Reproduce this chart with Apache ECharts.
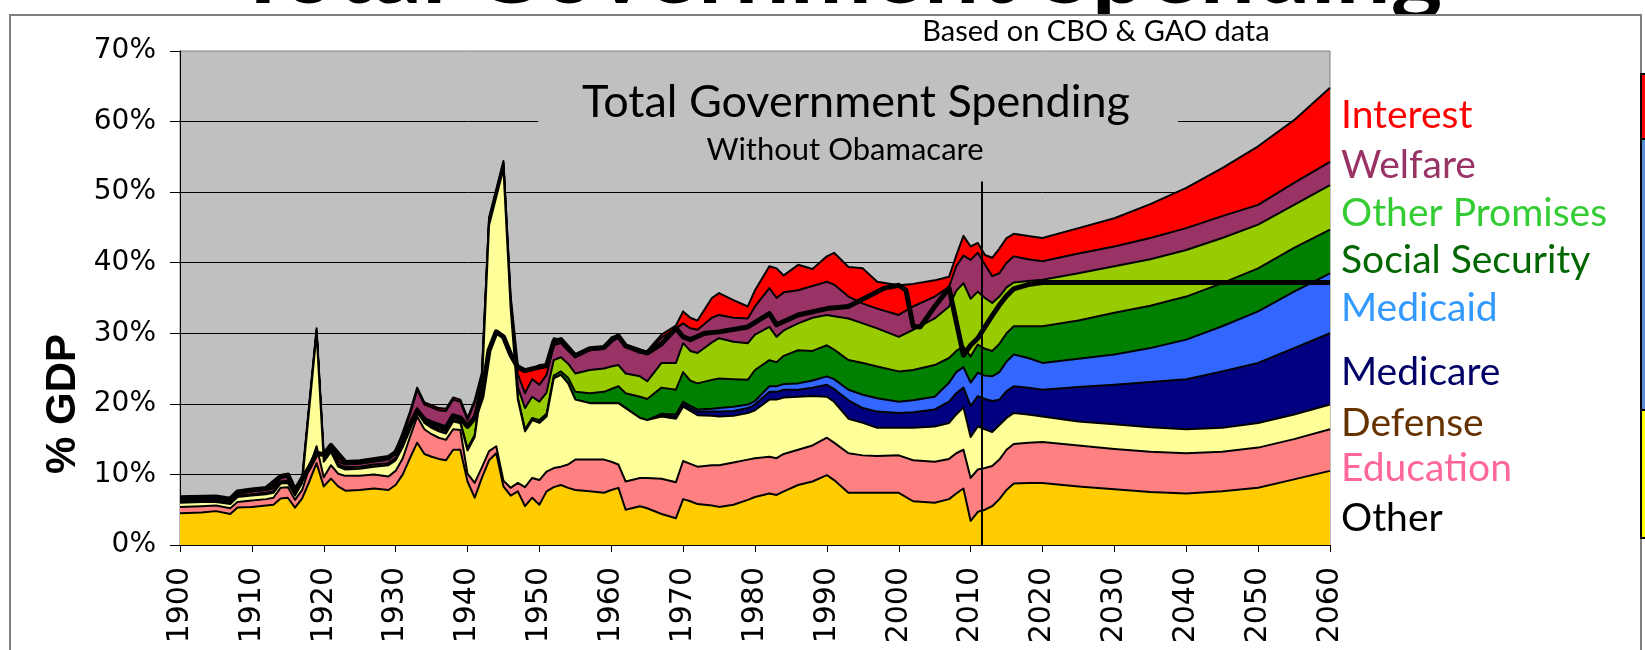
<!DOCTYPE html>
<html>
<head>
<meta charset="utf-8">
<title>Total Government Spending</title>
<script src="https://cdn.jsdelivr.net/npm/echarts@6/dist/echarts.min.js"></script>
<style>
  html, body { margin: 0; padding: 0; background: #ffffff; }
  #chart { width: 1645px; height: 650px; }
</style>
</head>
<body>
<div id="chart"></div>
<script>
// Spending by function, % of GDP (stacked bottom to top).
const years = [
  1900,1903,1905,1907,1908,1910,1912,1913,1914,1915,
  1916,1917,1918,1919,1920,1921,1922,1923,1925,1927,
  1929,1930,1931,1932,1933,1934,1935,1936,1937,1938,
  1939,1940,1941,1942,1943,1944,1945,1946,1947,1948,
  1949,1950,1951,1952,1953,1954,1955,1957,1959,1960,
  1961,1962,1964,1965,1967,1969,1970,1971,1972,1974,
  1975,1977,1979,1980,1982,1983,1984,1986,1988,1990,
  1991,1993,1995,1997,2000,2002,2005,2007,2008,2009,
  2010,2011,2012,2013,2014,2015,2016,2018,2020,2025,
  2030,2035,2040,2045,2050,2055,2060
];

const otherSpending = [
  4.5,4.6,4.8,4.4,5.3,5.4,5.6,5.7,6.6,6.7,
  5.3,6.6,9.0,11.6,8.3,9.4,8.3,7.7,7.8,8.0,
  7.8,8.5,10.0,12.3,14.5,12.9,12.5,12.2,12.0,13.5,
  13.5,9.0,6.7,9.5,12.0,13.0,8.3,7.0,7.6,5.5,
  6.7,5.7,7.6,8.2,8.5,8.1,7.8,7.6,7.4,7.8,
  8.1,5.0,5.5,5.2,4.4,3.8,6.5,6.2,5.8,5.6,
  5.4,5.7,6.4,6.8,7.3,7.1,7.6,8.5,9.0,9.9,
  9.2,7.4,7.4,7.4,7.4,6.2,6.0,6.5,7.3,8.0,
  3.4,4.7,5.0,5.5,6.5,7.8,8.7,8.8,8.8,8.3,
  7.9,7.5,7.3,7.6,8.1,9.3,10.5
];

const education = [
  0.9,0.9,0.8,0.8,0.8,0.9,0.9,1.0,1.5,1.5,
  1.1,1.2,2.0,2.4,1.3,1.9,1.8,2.1,2.0,2.0,
  1.9,2.0,2.3,3.0,3.7,3.5,3.2,3.0,2.9,2.9,
  2.8,1.1,2.1,1.5,1.3,1.0,0.8,1.1,1.2,2.7,
  2.8,3.5,2.8,2.7,2.6,3.3,4.3,4.5,4.7,4.0,
  3.3,4.0,4.0,4.3,5.0,5.1,5.4,5.3,5.3,5.7,
  5.9,6.0,5.7,5.5,5.2,5.2,5.3,5.0,5.1,5.3,
  5.3,5.6,5.3,5.2,5.3,5.8,5.8,5.7,5.7,5.5,
  6.1,6.0,5.9,5.7,5.6,5.7,5.6,5.7,5.8,5.8,
  5.7,5.7,5.7,5.6,5.7,5.7,5.9
];

const defense = [
  0.6,0.6,0.5,0.6,0.7,0.7,0.7,0.7,0.6,0.6,
  0.6,1.0,8.5,16.0,2.2,1.9,1.0,0.9,1.0,1.1,
  1.6,1.5,1.6,1.0,0.9,0.9,0.9,0.9,0.9,1.1,
  1.0,3.3,6.5,11.5,32.0,35.3,44.2,25.5,11.8,7.9,
  8.2,8.1,7.8,12.7,13.0,11.5,8.5,8.0,8.0,8.3,
  8.7,10.4,8.5,8.2,8.8,9.0,7.7,7.5,7.3,7.0,
  6.9,6.6,6.6,6.8,8.1,8.3,8.0,7.5,7.0,5.8,
  5.8,4.9,4.6,4.0,3.9,4.6,5.0,5.1,5.5,6.0,
  5.8,6.1,5.5,4.8,4.9,4.5,4.4,4.0,3.6,3.4,
  3.5,3.5,3.4,3.4,3.5,3.5,3.5
];

const medicare = [
  0,0,0,0,0,0,0,0,0,0,
  0,0,0,0,0,0,0,0,0,0,
  0,0,0,0,0,0,0,0,0,0,
  0,0,0,0,0,0,0,0,0,0,
  0,0,0,0,0,0,0,0,0,0,
  0,0,0,0,0.2,0.3,0.4,0.4,0.5,0.6,
  0.7,0.7,0.7,0.8,1.1,1.1,1.1,1.0,1.2,1.7,
  1.8,2.6,2.1,2.3,2.1,2.2,2.4,3.0,3.0,2.8,
  4.4,4.3,4.3,4.4,3.6,3.8,3.8,3.8,3.8,4.9,
  5.6,6.4,7.1,8.0,8.5,9.4,10.1
];

const medicaid = [
  0,0,0,0,0,0,0,0,0,0,
  0,0,0,0,0,0,0,0,0,0,
  0,0,0,0,0,0,0,0,0,0,
  0,0,0,0,0,0,0,0,0,0,
  0,0,0,0,0,0,0,0,0,0,
  0,0,0,0,0.2,0.3,0.3,0.3,0.3,0.4,
  0.5,0.6,0.5,0.5,0.8,0.8,0.8,0.9,1.0,1.2,
  1.4,1.5,1.9,1.9,1.6,1.7,1.8,2.7,3.0,2.9,
  3.3,3.3,3.3,3.5,3.9,4.2,4.5,4.2,3.8,4.0,
  4.3,4.8,5.6,6.4,7.3,8.0,8.5
];

const socialSecurity = [
  0,0,0,0,0,0,0,0,0,0,
  0,0,0,0,0,0,0,0,0,0,
  0,0,0,0,0,0,0,0,0.1,0.2,
  0.2,0.3,0.3,0.3,0.3,0.3,0.3,0.3,0.3,0.3,
  0.3,0.4,0.4,0.4,0.5,0.8,1.1,1.4,1.6,2.0,
  2.4,2.1,3.0,3.0,3.7,3.5,4.2,3.6,3.7,4.1,
  4.2,3.9,3.5,4.4,3.7,3.4,4.0,4.7,4.2,4.4,
  4.2,4.2,4.5,4.5,4.3,4.3,4.5,3.5,3.0,2.9,
  3.7,4.0,3.8,3.6,4.0,4.0,4.0,4.5,5.2,5.4,
  5.9,6.0,6.1,6.1,6.1,6.2,6.2
];

const otherPromises = [
  0.2,0.2,0.2,0.2,0.2,0.2,0.2,0.2,0.3,0.3,
  0.2,0.2,0.2,0.2,0.3,0.3,0.3,0.3,0.3,0.3,
  0.3,0.3,0.4,0.4,0.3,0.3,0.3,0.3,0.3,0.3,
  0.3,3.2,2.8,0.8,0.3,0.3,0.3,0.5,1.5,3.0,
  3.0,2.6,3.0,2.2,2.0,2.0,2.6,3.3,3.3,3.2,
  3.0,2.8,2.9,2.5,3.5,3.8,4.1,4.2,4.3,5.3,
  5.7,5.3,5.2,5.0,4.7,3.6,3.6,3.8,4.7,4.3,
  4.7,5.9,5.6,5.4,4.9,5.7,6.6,7.3,8.5,9.0,
  8.2,7.5,7.2,6.8,6.7,6.5,6.2,6.4,6.6,6.7,
  6.6,6.6,6.6,6.4,6.2,6.1,6.3
];

const welfare = [
  0.3,0.3,0.3,0.3,0.3,0.4,0.4,0.4,0.5,0.6,
  0.3,0.3,0.2,0.2,0.4,0.4,0.4,0.4,0.4,0.4,
  0.5,0.6,1.3,1.8,2.6,2.3,2.6,2.7,2.8,2.6,
  2.5,0.8,1.8,0.5,0.3,0.3,0.3,0.5,1.8,2.1,
  2.5,2.4,2.5,2.1,2.0,1.8,2.4,2.8,2.8,3.7,
  4.0,3.8,3.3,4.0,3.6,4.9,2.8,3.2,3.3,3.5,
  3.3,3.4,3.5,4.0,5.5,5.5,5.4,4.7,4.5,4.7,
  4.5,3.1,2.8,2.8,3.1,3.3,3.1,2.8,3.5,3.9,
  5.5,5.5,4.7,3.8,3.3,3.5,3.7,3.1,2.6,2.8,
  2.8,3.0,3.1,3.1,2.8,3.1,3.3
];

const interest = [
  0.3,0.3,0.3,0.3,0.3,0.3,0.3,0.3,0.4,0.4,
  0.3,0.3,0.3,0.3,0.4,0.4,0.4,0.4,0.4,0.4,
  0.4,0.4,0.4,0.4,0.3,0.3,0.3,0.3,0.3,0.3,
  0.3,0.3,0.3,0.3,0.2,0.2,0.2,0.4,1.3,3.4,
  1.4,2.8,1.5,1.0,0.5,0.4,0.3,0.3,0.3,0.4,
  0.3,0.3,0.3,0.3,0.4,0.4,1.7,1.5,1.3,2.8,
  3.1,2.5,1.7,2.3,3.1,4.2,2.4,3.6,2.4,3.6,
  4.5,4.2,5.0,3.8,4.2,3.2,2.3,1.4,1.5,2.8,
  1.9,1.4,1.4,2.6,3.5,3.5,3.2,3.3,3.3,3.6,
  4.0,4.8,5.7,6.8,8.3,8.9,10.5
];

// Total revenue, % of GDP (thick black line).
const revenueYears = [
  1900,1905,1907,1908,1910,1912,1914,1915,1916,1917,
  1918,1919,1920,1921,1923,1925,1929,1930,1931,1932,
  1933,1934,1935,1937,1938,1939,1940,1941,1942,1943,
  1944,1945,1946,1947,1948,1950,1951,1952,1953,1955,
  1957,1959,1960,1961,1962,1964,1965,1967,1969,1970,
  1971,1973,1975,1979,1982,1983,1986,1990,1993,1998,
  2000,2001,2002,2003,2005,2007,2009,2010,2011,2012,
  2013,2014,2015,2016,2018,2020,2060
];
const revenue = [
  6.7,6.8,6.5,7.5,7.8,8.0,9.7,9.9,7.7,9.4,
  11.0,13.0,12.8,14.1,11.7,11.8,12.4,13.1,15.2,17.0,
  19.0,17.8,17.3,16.6,18.3,18.0,16.8,18.0,21.0,27.6,
  30.2,29.5,27.0,25.2,24.7,25.2,25.4,28.8,29.1,26.8,
  27.8,28.0,29.0,29.6,28.2,27.5,27.2,28.5,30.7,29.5,
  29.1,30.0,30.2,30.9,32.8,31.2,32.6,33.5,33.8,36.4,
  36.8,36.1,31.0,30.9,33.8,36.4,26.9,28.3,29.3,30.9,
  32.5,34.0,35.3,36.3,36.9,37.2,37.2
];

// Boundary between actual figures and projections.
const projectionStartYear = 2011.5;
const projectionMarkerTop = 51.5;

const categories = [
  { name: 'Other',           values: otherSpending,  fill: '#FFCC00', label: '#000000' },
  { name: 'Education',       values: education,      fill: '#FF8080', label: '#FF6699' },
  { name: 'Defense',         values: defense,        fill: '#FFFF99', label: '#663300' },
  { name: 'Medicare',        values: medicare,       fill: '#000080', label: '#000066' },
  { name: 'Medicaid',        values: medicaid,       fill: '#3366FF', label: '#3399FF' },
  { name: 'Social Security', values: socialSecurity, fill: '#008000', label: '#006600' },
  { name: 'Other Promises',  values: otherPromises,  fill: '#99CC00', label: '#33CC33' },
  { name: 'Welfare',         values: welfare,        fill: '#993366', label: '#993366' },
  { name: 'Interest',        values: interest,       fill: '#FF0000', label: '#FF0000' }
];

// Label rows at the right of the plot, top to bottom.
const labelRows = [
  ['Interest', 115], ['Welfare', 165], ['Other Promises', 213], ['Social Security', 260],
  ['Medicaid', 308], ['Medicare', 372], ['Defense', 423], ['Education', 468], ['Other', 518]
];

// Running totals: each layer is filled from the axis up to its cumulative top,
// lower layers are painted over the upper ones.
let running = years.map(() => 0);
const layerTops = categories.map(c => {
  running = running.map((v, k) => Math.round((v + c.values[k]) * 100) / 100);
  return running;
});

const chart = echarts.init(document.getElementById('chart'), null, { renderer: 'canvas' });

const areaSeries = categories.map((c, i) => ({
  name: c.name,
  type: 'line',
  z: 20 - i,
  data: years.map((y, k) => [y, layerTops[i][k]]),
  symbol: 'none',
  showSymbol: false,
  silent: true,
  lineStyle: { color: '#000000', width: 2, join: 'round' },
  areaStyle: { color: c.fill, opacity: 1, origin: 'start' },
  itemStyle: { color: c.fill }
}));

const revenueSeries = {
  name: 'Revenue',
  type: 'line',
  z: 30,
  data: revenueYears.map((y, k) => [y, revenue[k]]),
  symbol: 'none',
  silent: true,
  lineStyle: { color: '#000000', width: 5, join: 'round' },
  markLine: {
    z: 40,
    silent: true,
    symbol: 'none',
    label: { show: false },
    lineStyle: { color: '#000000', width: 2, type: 'solid' },
    data: [[{ coord: [projectionStartYear, 0] }, { coord: [projectionStartYear, projectionMarkerTop] }]]
  }
};

const graphics = [
  // slide heading partly hidden behind the chart frame
  { type: 'text', z: -20, style: { text: 'Total Government Spending', x: 838, y: -29,
      font: 'bold 98px Lato', fill: '#000000', align: 'center', verticalAlign: 'middle' } },
  // chart frame
  { type: 'rect', z: -10, shape: { x: 10, y: 15, width: 1631, height: 700 },
    style: { fill: '#ffffff', stroke: '#7f7f7f', lineWidth: 2 } },
  // neighbouring key blocks at the right edge
  { type: 'rect', z: 5, shape: { x: 1641, y: 74, width: 12, height: 65 },
    style: { fill: '#FF0000', stroke: '#000000', lineWidth: 2 } },
  { type: 'rect', z: 5, shape: { x: 1641, y: 139, width: 12, height: 271 },
    style: { fill: '#5B8DD6', stroke: '#000000', lineWidth: 2 } },
  { type: 'rect', z: 5, shape: { x: 1641, y: 410, width: 12, height: 128 },
    style: { fill: '#FFFF00', stroke: '#000000', lineWidth: 2 } },
  // plot caption box
  { type: 'rect', z: 1, shape: { x: 538, y: 62, width: 640, height: 110 },
    style: { fill: '#C0C0C0' } },
  { type: 'text', z: 6, style: { text: 'Total Government Spending', x: 856, y: 102,
      font: '45px Lato', fill: '#000000', align: 'center', verticalAlign: 'middle' } },
  { type: 'text', z: 6, style: { text: 'Without Obamacare', x: 845, y: 150,
      font: '31px Lato', fill: '#000000', align: 'center', verticalAlign: 'middle' } },
  { type: 'text', z: 6, style: { text: 'Based on CBO & GAO data', x: 1096, y: 32,
      font: '29px Lato', fill: '#000000', align: 'center', verticalAlign: 'middle' } },
  // y axis title
  { type: 'text', z: 6, x: 63, y: 404, rotation: Math.PI / 2,
    style: { text: '% GDP', x: 0, y: 0, font: 'bold 42px "Liberation Sans"', fill: '#000000',
      align: 'center', verticalAlign: 'middle' } }
];

labelRows.forEach(([name, y]) => {
  const c = categories.find(cat => cat.name === name);
  graphics.push({ type: 'text', z: 6, style: { text: name, x: 1341, y: y,
      font: '39px Lato', fill: c.label, align: 'left', verticalAlign: 'middle' } });
});

chart.setOption({
  animation: false,
  backgroundColor: '#ffffff',
  grid: {
    left: 180, top: 51, width: 1150, height: 494,
    show: true, backgroundColor: '#C0C0C0', borderColor: '#808080', borderWidth: 1
  },
  xAxis: {
    type: 'value', min: 1900, max: 2060, interval: 10,
    axisLine: { show: true, onZero: false, lineStyle: { color: '#000000', width: 1 } },
    axisTick: { show: true, length: 7, lineStyle: { color: '#000000' } },
    axisLabel: { rotate: 90, margin: 22, fontFamily: 'DejaVu Sans', fontSize: 30, color: '#000000',
      formatter: v => String(v) },
    splitLine: { show: false }
  },
  yAxis: {
    type: 'value', min: 0, max: 70, interval: 10,
    axisLine: { show: true, lineStyle: { color: '#000000', width: 1 } },
    axisTick: { show: true, length: 10, lineStyle: { color: '#000000' } },
    axisLabel: { margin: 24, fontFamily: 'DejaVu Sans', fontSize: 28, color: '#000000',
      formatter: '{value}%' },
    splitLine: { show: true, showMaxLine: false, lineStyle: { color: '#000000', width: 1 } }
  },
  graphic: graphics,
  series: areaSeries.concat([revenueSeries])
});
</script>
</body>
</html>
